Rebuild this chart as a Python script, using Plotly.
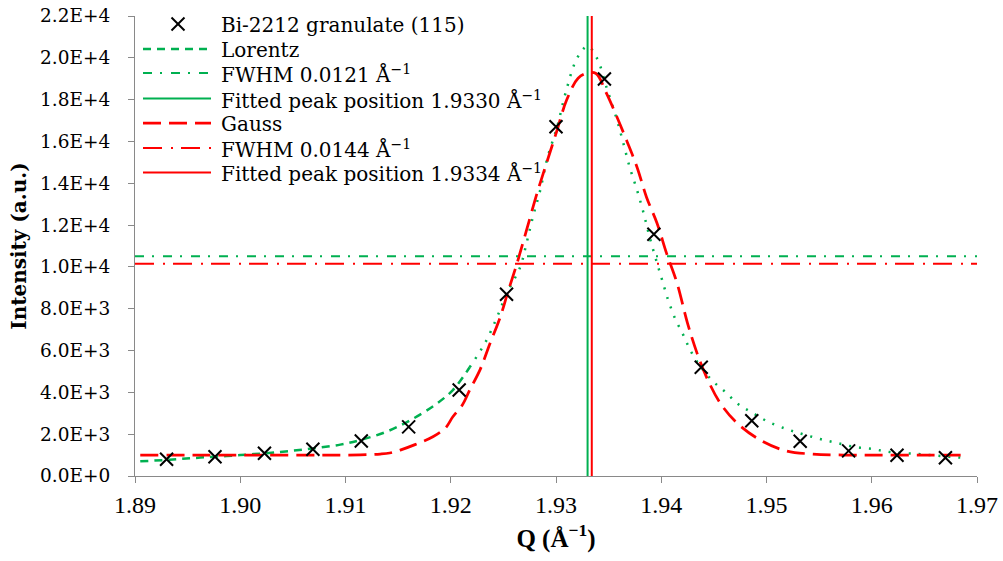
import plotly.graph_objects as go

# ---------------- data ----------------
data_q = [1.8930, 1.8976, 1.9023, 1.9069, 1.9115, 1.9160, 1.9208, 1.9253, 1.9300,
          1.9346, 1.9393, 1.9438, 1.9486, 1.9532, 1.9578, 1.9624, 1.9670]
data_i = [800, 920, 1085, 1276, 1673, 2350, 4110, 8690, 16700,
          18990, 11565, 5200, 2640, 1665, 1200, 995, 870]

lorentz_q = [1.8905, 1.8933, 1.8962, 1.9000, 1.9038, 1.9069, 1.9095, 1.9114, 1.9138,
             1.9161, 1.9185, 1.9202, 1.9218, 1.9233, 1.9244, 1.9253, 1.9266, 1.9272,
             1.9278, 1.9285, 1.9292, 1.9301, 1.9309, 1.9320, 1.9330, 1.9339, 1.9348,
             1.9358, 1.9364, 1.9370, 1.9377, 1.9383, 1.9389, 1.9396, 1.9401, 1.9406,
             1.9413, 1.9421, 1.9428, 1.9437, 1.9448, 1.9461, 1.9473, 1.9487, 1.9502,
             1.9519, 1.9534, 1.9551, 1.9567, 1.9584, 1.9601, 1.9617, 1.9644, 1.9665,
             1.9689]
lorentz_i = [700, 780, 880, 1000, 1150, 1320, 1500, 1720, 2100,
             2650, 3400, 4110, 5200, 6400, 7600, 8700, 10000, 11135,
             12380, 13670, 15245, 16680, 18300, 19976, 20550, 19976, 18590,
             17013, 15914, 14767, 13670, 12616, 11422, 10180, 9350, 8500,
             7550, 6738, 5974, 5250, 4588, 4014, 3441, 3011, 2581,
             2246, 2007, 1768, 1577, 1386, 1290, 1147, 1051, 956,
             860]

gauss_q = [1.8905, 1.8962, 1.9019, 1.9076, 1.9114, 1.9133, 1.9142, 1.9152, 1.9166,
           1.9183, 1.9195, 1.9202, 1.9211, 1.9218, 1.9228, 1.9237, 1.9247, 1.9254,
           1.9263, 1.9272, 1.9282, 1.9291, 1.9301, 1.9310, 1.9321, 1.9330, 1.9338,
           1.9348, 1.9358, 1.9367, 1.9377, 1.9386, 1.9396, 1.9405, 1.9415, 1.9425,
           1.9434, 1.9443, 1.9456, 1.9472, 1.9494, 1.9519, 1.9544, 1.9573, 1.9605,
           1.9646, 1.9687]
gauss_i = [1000, 1000, 1000, 1000, 1010, 1050, 1100, 1240, 1500,
           1878, 2300, 2834, 3400, 4110, 5100, 6300, 7600, 8745,
           10180, 11757, 13527, 14960, 16535, 17969, 19020, 19274, 19250,
           18300, 17157, 16057, 14767, 13333, 12090, 10657, 9223, 7300,
           5878, 4731, 3489, 2533, 1720, 1195, 1051, 1004, 1000,
           1000, 1000]

lorentz_fwhm_level = 10514
gauss_fwhm_level = 10148
lorentz_peak_q = 1.9330
gauss_peak_q = 1.9334

x_range = [1.89, 1.97]
y_range = [0, 22000]
x_ticks = [1.89, 1.90, 1.91, 1.92, 1.93, 1.94, 1.95, 1.96, 1.97]
y_ticks = [0, 2000, 4000, 6000, 8000, 10000, 12000, 14000, 16000, 18000, 20000, 22000]
y_tick_text = ["0.0E+0", "2.0E+3", "4.0E+3", "6.0E+3", "8.0E+3", "1.0E+4",
               "1.2E+4", "1.4E+4", "1.6E+4", "1.8E+4", "2.0E+4", "2.2E+4"]

names = ["Bi-2212 granulate (115)", "Lorentz", "FWHM 0.0121 Å<sup>−1</sup>",
         "Fitted peak position 1.9330 Å<sup>−1</sup>", "Gauss",
         "FWHM 0.0144 Å<sup>−1</sup>", "Fitted peak position 1.9334 Å<sup>−1</sup>"]

# ---------------- styles ----------------
GREEN = "#00B050"
RED = "#FF0000"
FONT = "DejaVu Serif"
XFONT = "Liberation Serif"
AXIS_GRAY = "#898989"

lorentz_dash_style = dict(color=GREEN, width=2.5, dash="8px,6px")
lorentz_dot_style = dict(color=GREEN, width=2.5, dash="2px,8px")
gauss_style = dict(color=RED, width=2.75, dash="18px,8px")
g_fwhm_style = dict(color=GREEN, width=2, dash="9px,8px,2px,9px")
r_fwhm_style = dict(color=RED, width=2, dash="19px,9px,2px,8px")
g_peak_style = dict(color=GREEN, width=2)
r_peak_style = dict(color=RED, width=2)

fig = go.Figure()

split = 13  # the Lorentz line looks dashed on the left tail, dotted elsewhere
fig.add_trace(go.Scatter(x=lorentz_q[:split], y=lorentz_i[:split], mode="lines",
                         name=names[1], showlegend=False,
                         line=dict(shape="spline", **lorentz_dash_style)))
fig.add_trace(go.Scatter(x=lorentz_q[split - 1:], y=lorentz_i[split - 1:], mode="lines",
                         name=names[1], showlegend=False,
                         line=dict(shape="spline", **lorentz_dot_style)))
fig.add_trace(go.Scatter(x=gauss_q, y=gauss_i, mode="lines", name=names[4], showlegend=False,
                         line=dict(shape="spline", **gauss_style)))
fig.add_trace(go.Scatter(x=x_range, y=[lorentz_fwhm_level] * 2, mode="lines",
                         name=names[2], showlegend=False, line=g_fwhm_style))
fig.add_trace(go.Scatter(x=x_range, y=[gauss_fwhm_level] * 2, mode="lines",
                         name=names[5], showlegend=False, line=r_fwhm_style))
fig.add_trace(go.Scatter(x=[lorentz_peak_q] * 2, y=y_range, mode="lines",
                         name=names[3], showlegend=False, line=g_peak_style))
fig.add_trace(go.Scatter(x=[gauss_peak_q] * 2, y=y_range, mode="lines",
                         name=names[6], showlegend=False, line=r_peak_style))
fig.add_trace(go.Scatter(x=data_q, y=data_i, mode="markers", name=names[0], showlegend=False,
                         marker=dict(symbol="x-thin", size=13, color="black",
                                     line=dict(color="black", width=2))))

# ---------------- legend drawn at the reference's place ----------------
W, H = 1003, 561
ML, MR, MT, MB = 135, 26, 16, 85
PW, PH = W - ML - MR, H - MT - MB


def px(xp):
    return (xp - ML) / PW


def py(yp):
    return (H - MB - yp) / PH


row_y = [24, 49, 73, 98.5, 123, 148, 172.5]
sample_x0, sample_x1, text_x, marker_x, marker_half = 143, 211, 219, 178, 6.5
row_styles = [None, lorentz_dash_style, g_fwhm_style, g_peak_style,
              gauss_style, r_fwhm_style, r_peak_style]

shapes = []
annotations = []
for name, yrow, st in zip(names, row_y, row_styles):
    if st is None:
        for sgn in (1, -1):
            shapes.append(dict(type="line", xref="paper", yref="paper",
                               x0=px(marker_x - marker_half), x1=px(marker_x + marker_half),
                               y0=py(yrow - sgn * marker_half), y1=py(yrow + sgn * marker_half),
                               line=dict(color="black", width=2)))
    else:
        shapes.append(dict(type="line", xref="paper", yref="paper",
                           x0=px(sample_x0), x1=px(sample_x1), y0=py(yrow), y1=py(yrow),
                           line=st))
    annotations.append(dict(text=name, xref="paper", yref="paper", x=px(text_x), y=py(yrow + 1),
                            xanchor="left", yanchor="middle", showarrow=False,
                            font=dict(family=FONT, size=20, color="black")))

axis_common = dict(showline=True, linecolor=AXIS_GRAY, linewidth=1, ticks="outside",
                   ticklen=6, tickcolor=AXIS_GRAY, showgrid=False, zeroline=False)

fig.update_layout(
    width=W, height=H,
    margin=dict(l=ML, r=MR, t=MT, b=MB, autoexpand=False),
    paper_bgcolor="white", plot_bgcolor="white",
    font=dict(family=FONT, color="black"),
    showlegend=False,
    shapes=shapes,
    annotations=annotations,
    xaxis=dict(range=x_range, tickvals=x_ticks, tickformat=".2f",
               tickfont=dict(family=XFONT, size=24, color="black"), ticklabelstandoff=1,
               title=dict(text="<b>Q (Å<sup>−1</sup>)</b>", font=dict(family=XFONT, size=25),
                          standoff=12),
               **axis_common),
    yaxis=dict(range=y_range, tickvals=y_ticks, ticktext=y_tick_text,
               tickfont=dict(family=FONT, size=18.5, color="black"), ticklabelstandoff=14,
               title=dict(text="<b>Intensity (a.u.)</b>", font=dict(family=FONT, size=20),
                          standoff=8),
               **axis_common),
)

fig.write_html("out.html")
